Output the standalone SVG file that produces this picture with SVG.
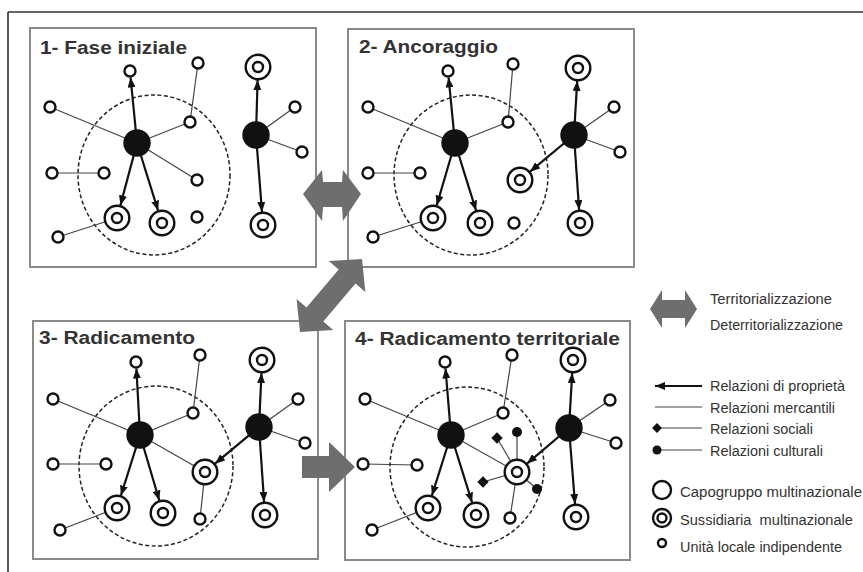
<svg xmlns="http://www.w3.org/2000/svg" width="863" height="572" viewBox="0 0 863 572">
<style>
.frame{fill:none;stroke:#8a8a8a;stroke-width:2}
.title{font-family:"Liberation Sans",Arial,sans-serif;font-weight:bold;font-size:18px;fill:#333}
.leg{font-family:"Liberation Sans",Arial,sans-serif;font-size:14px;fill:#333;white-space:pre}
.thin{stroke:#444;stroke-width:1.2;fill:none}
.own{stroke:#111;stroke-width:2.2;fill:none;marker-end:url(#ah)}
.ownl{stroke:#111;stroke-width:2.2;fill:none;marker-start:url(#ahs)}
.dash{fill:none;stroke:#222;stroke-width:1.5;stroke-dasharray:4 2.5}
.s{fill:#fff;stroke:#111;stroke-width:2.4}
.big{fill:#111}
.bigarrow{fill:#6e6e6e}
.blk{fill:#111}
</style>
<defs>
<marker id="ah" markerUnits="userSpaceOnUse" markerWidth="10" markerHeight="8" refX="10" refY="4" orient="auto"><path d="M0,0 L10,4 L0,8 z" fill="#111"/></marker>
<marker id="ahs" markerUnits="userSpaceOnUse" markerWidth="10" markerHeight="8" refX="0" refY="4" orient="auto"><path d="M10,0 L0,4 L10,8 z" fill="#111"/></marker>
</defs>
<rect width="863" height="572" fill="#fff"/>
<g id="outer-frame">
<line x1="8" y1="12" x2="863" y2="12" stroke="#666" stroke-width="2"/>
<line x1="8" y1="12" x2="8" y2="572" stroke="#222" stroke-width="1.5"/>
</g>
<g id="panels">
<rect class="frame" x="30" y="28" width="286" height="239"/>
<rect class="frame" x="348" y="29" width="286" height="238"/>
<rect class="frame" x="33" y="321" width="285" height="238"/>
<rect class="frame" x="345" y="321" width="285" height="239"/>
<text class="title" x="40" y="54" textLength="147" lengthAdjust="spacingAndGlyphs">1- Fase iniziale</text>
<text class="title" x="359" y="53" textLength="139" lengthAdjust="spacingAndGlyphs">2- Ancoraggio</text>
<text class="title" x="39" y="344" textLength="156" lengthAdjust="spacingAndGlyphs">3- Radicamento</text>
<text class="title" x="355" y="345" textLength="265" lengthAdjust="spacingAndGlyphs">4- Radicamento territoriale</text>
<ellipse class="dash" cx="154" cy="175" rx="76" ry="80"/>
<ellipse class="dash" cx="471" cy="175" rx="77" ry="80"/>
<ellipse class="dash" cx="156" cy="466" rx="77" ry="80"/>
<ellipse class="dash" cx="467" cy="467" rx="77" ry="80"/>
</g>
<g id="phase-arrows">
<polygon class="bigarrow" points="303,194 322,170 323,182 342,182 343,170 361,194 343,221 342,207 323,207 322,221"/>
<polygon class="bigarrow" transform="translate(331,295.5) rotate(-49.7)" points="47.9,0 24.9,24 24.9,11 -24.9,11 -24.9,24 -47.9,0 -24.9,-24 -24.9,-11 24.9,-11 24.9,-24"/>
<polygon class="bigarrow" points="302,456 329,456 329,442 355,467 329,492 329,478 302,478"/>
</g>
<g id="connectors">
<line class="thin" x1="137" y1="143" x2="50" y2="107"/>
<line class="thin" x1="137" y1="143" x2="190" y2="122"/>
<line class="thin" x1="190" y1="122" x2="198" y2="63"/>
<line class="thin" x1="137" y1="143" x2="197" y2="180"/>
<line class="thin" x1="52" y1="173" x2="104" y2="173"/>
<line class="thin" x1="58" y1="237" x2="117" y2="218"/>
<line class="thin" x1="256" y1="135" x2="295" y2="107"/>
<line class="thin" x1="256" y1="135" x2="302" y2="152"/>
<line class="own" x1="137" y1="143" x2="130.6" y2="77.5"/>
<line class="own" x1="137" y1="143" x2="120.4" y2="205.4"/>
<line class="own" x1="137" y1="143" x2="158.1" y2="210.6"/>
<line class="own" x1="256" y1="135" x2="257.6" y2="80"/>
<line class="own" x1="256" y1="135" x2="262" y2="212"/>
<line class="thin" x1="455" y1="143" x2="368" y2="107"/>
<line class="thin" x1="455" y1="143" x2="508" y2="122"/>
<line class="thin" x1="508" y1="122" x2="513" y2="64"/>
<line class="thin" x1="368" y1="173" x2="420" y2="173"/>
<line class="thin" x1="373" y1="237" x2="433" y2="218"/>
<line class="thin" x1="574" y1="135" x2="614" y2="107"/>
<line class="thin" x1="574" y1="135" x2="620" y2="152"/>
<line class="own" x1="455" y1="143" x2="448.6" y2="77.5"/>
<line class="own" x1="455" y1="143" x2="436.7" y2="205.5"/>
<line class="own" x1="455" y1="143" x2="476.1" y2="210.6"/>
<line class="own" x1="574" y1="135" x2="577.2" y2="81"/>
<line class="own" x1="574" y1="135" x2="579.1" y2="210"/>
<line class="own" x1="574" y1="135" x2="530" y2="171.7"/>
<line class="thin" x1="140" y1="435" x2="53" y2="399"/>
<line class="thin" x1="140" y1="435" x2="193" y2="413"/>
<line class="thin" x1="193" y1="413" x2="200" y2="355"/>
<line class="thin" x1="140" y1="435" x2="205" y2="472"/>
<line class="thin" x1="205" y1="472" x2="200" y2="519"/>
<line class="thin" x1="53" y1="464" x2="106" y2="464"/>
<line class="thin" x1="60" y1="530" x2="117" y2="508"/>
<line class="thin" x1="259" y1="427" x2="298" y2="399"/>
<line class="thin" x1="259" y1="427" x2="305" y2="443"/>
<line class="own" x1="140" y1="435" x2="136.4" y2="368.5"/>
<line class="own" x1="140" y1="435" x2="120.9" y2="495.6"/>
<line class="own" x1="140" y1="435" x2="159.3" y2="500.5"/>
<line class="own" x1="259" y1="427" x2="261.5" y2="373"/>
<line class="own" x1="259" y1="427" x2="264.1" y2="502"/>
<line class="own" x1="259" y1="427" x2="215" y2="463.7"/>
<line class="thin" x1="451" y1="435" x2="365" y2="399"/>
<line class="thin" x1="451" y1="435" x2="503" y2="413"/>
<line class="thin" x1="503" y1="413" x2="512" y2="355"/>
<line class="thin" x1="451" y1="435" x2="517" y2="472"/>
<line class="thin" x1="517" y1="472" x2="510" y2="518"/>
<line class="thin" x1="363" y1="464" x2="417" y2="465"/>
<line class="thin" x1="372" y1="530" x2="428" y2="508"/>
<line class="thin" x1="569" y1="428" x2="610" y2="400"/>
<line class="thin" x1="569" y1="428" x2="616" y2="443"/>
<line class="thin" x1="517" y1="472" x2="497" y2="438"/>
<line class="thin" x1="517" y1="472" x2="517" y2="432"/>
<line class="thin" x1="517" y1="472" x2="483" y2="482"/>
<line class="thin" x1="517" y1="472" x2="537" y2="489"/>
<line class="own" x1="451" y1="435" x2="445.5" y2="368.5"/>
<line class="own" x1="451" y1="435" x2="431.9" y2="495.6"/>
<line class="own" x1="451" y1="435" x2="472.1" y2="502.6"/>
<line class="own" x1="569" y1="428" x2="572.2" y2="373"/>
<line class="own" x1="569" y1="428" x2="575" y2="504"/>
<line class="own" x1="569" y1="428" x2="527" y2="463.6"/>
</g>
<g id="p1-hq1"><circle class="big" cx="137" cy="143" r="13.7"/></g>
<g id="p1-hq2"><circle class="big" cx="256" cy="135" r="13.7"/></g>
<g id="p1-u1"><circle class="s" cx="130" cy="71" r="5.5"/></g>
<g id="p1-u2"><circle class="s" cx="198" cy="63" r="5.5"/></g>
<g id="p1-u3"><circle class="s" cx="50" cy="107" r="5.5"/></g>
<g id="p1-u4"><circle class="s" cx="190" cy="122" r="5.5"/></g>
<g id="p1-u5"><circle class="s" cx="52" cy="173" r="5.5"/></g>
<g id="p1-u6"><circle class="s" cx="104" cy="173" r="5.5"/></g>
<g id="p1-u7"><circle class="s" cx="197" cy="180" r="5.5"/></g>
<g id="p1-u8"><circle class="s" cx="197" cy="217" r="5.5"/></g>
<g id="p1-u9"><circle class="s" cx="58" cy="237" r="5.5"/></g>
<g id="p1-u10"><circle class="s" cx="295" cy="107" r="5.5"/></g>
<g id="p1-u11"><circle class="s" cx="302" cy="152" r="5.5"/></g>
<g id="p1-s1"><circle class="s" cx="117" cy="218" r="12.3"/><circle class="s" cx="117" cy="218" r="5"/></g>
<g id="p1-s2"><circle class="s" cx="162" cy="223" r="12.3"/><circle class="s" cx="162" cy="223" r="5"/></g>
<g id="p1-s3"><circle class="s" cx="258" cy="67" r="12.3"/><circle class="s" cx="258" cy="67" r="5"/></g>
<g id="p1-s4"><circle class="s" cx="263" cy="225" r="12.3"/><circle class="s" cx="263" cy="225" r="5"/></g>
<g id="p2-hq1"><circle class="big" cx="455" cy="143" r="13.7"/></g>
<g id="p2-hq2"><circle class="big" cx="574" cy="135" r="13.7"/></g>
<g id="p2-u1"><circle class="s" cx="448" cy="71" r="5.5"/></g>
<g id="p2-u2"><circle class="s" cx="513" cy="64" r="5.5"/></g>
<g id="p2-u3"><circle class="s" cx="368" cy="107" r="5.5"/></g>
<g id="p2-u4"><circle class="s" cx="508" cy="122" r="5.5"/></g>
<g id="p2-u5"><circle class="s" cx="368" cy="173" r="5.5"/></g>
<g id="p2-u6"><circle class="s" cx="420" cy="173" r="5.5"/></g>
<g id="p2-u7"><circle class="s" cx="514" cy="223" r="5.5"/></g>
<g id="p2-u8"><circle class="s" cx="373" cy="237" r="5.5"/></g>
<g id="p2-u9"><circle class="s" cx="614" cy="107" r="5.5"/></g>
<g id="p2-u10"><circle class="s" cx="620" cy="152" r="5.5"/></g>
<g id="p2-s1"><circle class="s" cx="433" cy="218" r="12.3"/><circle class="s" cx="433" cy="218" r="5"/></g>
<g id="p2-s2"><circle class="s" cx="480" cy="223" r="12.3"/><circle class="s" cx="480" cy="223" r="5"/></g>
<g id="p2-s3"><circle class="s" cx="520" cy="180" r="12.3"/><circle class="s" cx="520" cy="180" r="5"/></g>
<g id="p2-s4"><circle class="s" cx="578" cy="68" r="12.3"/><circle class="s" cx="578" cy="68" r="5"/></g>
<g id="p2-s5"><circle class="s" cx="580" cy="223" r="12.3"/><circle class="s" cx="580" cy="223" r="5"/></g>
<g id="p3-hq1"><circle class="big" cx="140" cy="435" r="13.7"/></g>
<g id="p3-hq2"><circle class="big" cx="259" cy="427" r="13.7"/></g>
<g id="p3-u1"><circle class="s" cx="136" cy="362" r="5.5"/></g>
<g id="p3-u2"><circle class="s" cx="200" cy="355" r="5.5"/></g>
<g id="p3-u3"><circle class="s" cx="53" cy="399" r="5.5"/></g>
<g id="p3-u4"><circle class="s" cx="193" cy="413" r="5.5"/></g>
<g id="p3-u5"><circle class="s" cx="53" cy="464" r="5.5"/></g>
<g id="p3-u6"><circle class="s" cx="106" cy="464" r="5.5"/></g>
<g id="p3-u7"><circle class="s" cx="200" cy="519" r="5.5"/></g>
<g id="p3-u8"><circle class="s" cx="60" cy="530" r="5.5"/></g>
<g id="p3-u9"><circle class="s" cx="298" cy="399" r="5.5"/></g>
<g id="p3-u10"><circle class="s" cx="305" cy="443" r="5.5"/></g>
<g id="p3-s1"><circle class="s" cx="117" cy="508" r="12.3"/><circle class="s" cx="117" cy="508" r="5"/></g>
<g id="p3-s2"><circle class="s" cx="163" cy="513" r="12.3"/><circle class="s" cx="163" cy="513" r="5"/></g>
<g id="p3-s3"><circle class="s" cx="205" cy="472" r="12.3"/><circle class="s" cx="205" cy="472" r="5"/></g>
<g id="p3-s4"><circle class="s" cx="262" cy="360" r="12.3"/><circle class="s" cx="262" cy="360" r="5"/></g>
<g id="p3-s5"><circle class="s" cx="265" cy="515" r="12.3"/><circle class="s" cx="265" cy="515" r="5"/></g>
<g id="p4-hq1"><circle class="big" cx="451" cy="435" r="13.7"/></g>
<g id="p4-hq2"><circle class="big" cx="569" cy="428" r="13.7"/></g>
<g id="p4-u1"><circle class="s" cx="445" cy="362" r="5.5"/></g>
<g id="p4-u2"><circle class="s" cx="512" cy="355" r="5.5"/></g>
<g id="p4-u3"><circle class="s" cx="365" cy="399" r="5.5"/></g>
<g id="p4-u4"><circle class="s" cx="503" cy="413" r="5.5"/></g>
<g id="p4-u5"><circle class="s" cx="363" cy="464" r="5.5"/></g>
<g id="p4-u6"><circle class="s" cx="417" cy="465" r="5.5"/></g>
<g id="p4-u7"><circle class="s" cx="510" cy="518" r="5.5"/></g>
<g id="p4-u8"><circle class="s" cx="372" cy="530" r="5.5"/></g>
<g id="p4-u9"><circle class="s" cx="610" cy="400" r="5.5"/></g>
<g id="p4-u10"><circle class="s" cx="616" cy="443" r="5.5"/></g>
<g id="p4-s1"><circle class="s" cx="428" cy="508" r="12.3"/><circle class="s" cx="428" cy="508" r="5"/></g>
<g id="p4-s2"><circle class="s" cx="476" cy="515" r="12.3"/><circle class="s" cx="476" cy="515" r="5"/></g>
<g id="p4-s3"><circle class="s" cx="517" cy="472" r="12.3"/><circle class="s" cx="517" cy="472" r="5"/></g>
<g id="p4-s4"><circle class="s" cx="573" cy="360" r="12.3"/><circle class="s" cx="573" cy="360" r="5"/></g>
<g id="p4-s5"><circle class="s" cx="576" cy="517" r="12.3"/><circle class="s" cx="576" cy="517" r="5"/></g>
<g id="p4-soc1"><rect class="blk" x="-4" y="-4" width="8" height="8" transform="translate(497,438) rotate(45)"/></g>
<g id="p4-soc2"><rect class="blk" x="-4" y="-4" width="8" height="8" transform="translate(483,482) rotate(45)"/></g>
<g id="p4-cul1"><circle class="blk" cx="517" cy="432" r="5"/></g>
<g id="p4-cul2"><circle class="blk" cx="537" cy="489" r="5"/></g>
<g id="legend">
<polygon class="bigarrow" points="650,309 662,290 662,300 685,300 685,290 697,309 685,328 685,318 662,318 662,328"/>
<text class="leg" x="710" y="304" textLength="122" lengthAdjust="spacingAndGlyphs">Territorializzazione</text>
<text class="leg" x="710" y="330" textLength="133" lengthAdjust="spacingAndGlyphs">Deterritorializzazione</text>
<line class="ownl" x1="655" y1="386" x2="702" y2="386"/>
<text class="leg" x="710" y="391" textLength="135" lengthAdjust="spacingAndGlyphs">Relazioni di proprietà</text>
<line class="thin" x1="655" y1="407" x2="702" y2="407"/>
<text class="leg" x="710" y="413" textLength="125" lengthAdjust="spacingAndGlyphs">Relazioni mercantili</text>
<line class="thin" x1="657" y1="428" x2="702" y2="428"/>
<rect class="blk" x="-3.5" y="-3.5" width="7" height="7" transform="translate(657,428) rotate(45)"/>
<text class="leg" x="710" y="434" textLength="103" lengthAdjust="spacingAndGlyphs">Relazioni sociali</text>
<line class="thin" x1="657" y1="450" x2="702" y2="450"/>
<circle class="blk" cx="657" cy="450" r="4.5"/>
<text class="leg" x="710" y="456" textLength="113" lengthAdjust="spacingAndGlyphs">Relazioni culturali</text>
<circle class="s" cx="662" cy="490" r="9"/>
<text class="leg" x="680" y="497" textLength="182" lengthAdjust="spacingAndGlyphs">Capogruppo multinazionale</text>
<circle class="s" cx="662" cy="518" r="9"/>
<circle class="s" cx="662" cy="518" r="4.5"/>
<text class="leg" x="680" y="525" textLength="173" lengthAdjust="spacingAndGlyphs" xml:space="preserve">Sussidiaria  multinazionale</text>
<circle class="s" cx="662" cy="543" r="4"/>
<text class="leg" x="680" y="552" textLength="162" lengthAdjust="spacingAndGlyphs">Unità locale indipendente</text>
</g>
</svg>
